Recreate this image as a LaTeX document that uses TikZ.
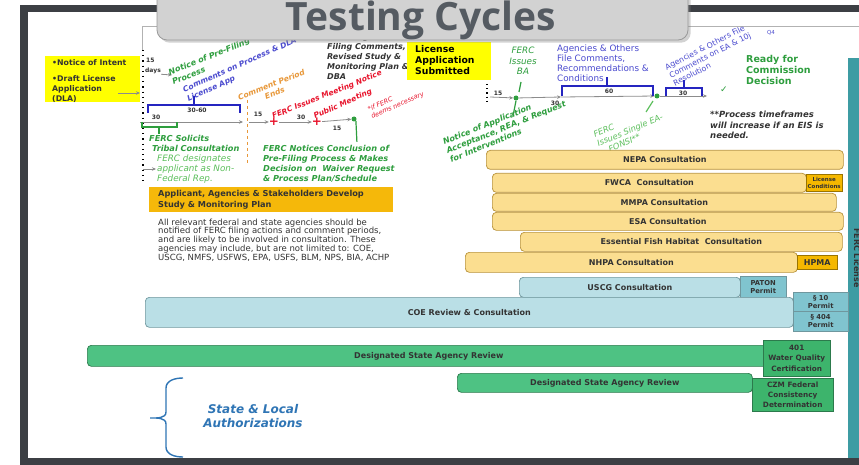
\documentclass[tikz,border=0pt]{standalone}
\usepackage{fontspec}
\setmainfont{DejaVu Sans}
\newfontfamily\titlefont{Open Sans}
\usetikzlibrary{arrows.meta,shadows}

\definecolor{frame}{HTML}{3C3F44}
\definecolor{titlefill}{HTML}{D2D2D2}
\definecolor{titletext}{HTML}{555B62}
\definecolor{hiyellow}{HTML}{FFFF00}
\definecolor{fercgreen}{HTML}{2E9E3E}
\definecolor{palegreen}{HTML}{5CBF5C}
\definecolor{agblue}{HTML}{4B4BCF}
\definecolor{brblue}{HTML}{2525C0}
\definecolor{cmorange}{HTML}{E8983A}
\definecolor{mtred}{HTML}{E8142C}
\definecolor{plangold}{HTML}{F5B80A}
\definecolor{barfill}{HTML}{FBDE90}
\definecolor{barline}{HTML}{B8923A}
\definecolor{tagfill}{HTML}{F5B800}
\definecolor{tagline}{HTML}{9A7400}
\definecolor{coefill}{HTML}{BADFE6}
\definecolor{coeline}{HTML}{6F979E}
\definecolor{permitfill}{HTML}{80C4CF}
\definecolor{statefill}{HTML}{4EC283}
\definecolor{stateline}{HTML}{2C7A4C}
\definecolor{certfill}{HTML}{3DB46C}
\definecolor{authblue}{HTML}{2F75B5}
\definecolor{licteal}{HTML}{3E9CA3}
\definecolor{bodytext}{HTML}{333333}
\definecolor{tline}{HTML}{8C8C8C}

\tikzset{
  every node/.style={inner sep=0pt},
  lbl/.style={align=left, anchor=north west},
  rot/.style={rotate=#1, align=left},
  consult/.style={draw=barline, fill=barfill, rounded corners=4pt, line width=0.7pt,
    anchor=north west, font=\bfseries\fontsize{8}{9}\selectfont, text=bodytext},
  tag/.style={draw=tagline, fill=tagfill, anchor=north west, align=center,
    font=\bfseries\fontsize{5.5}{7}\selectfont, text=bodytext},
  coebar/.style={consult, draw=coeline, fill=coefill},
  permit/.style={tag, draw=coeline, fill=permitfill, font=\bfseries\fontsize{6.8}{8.3}\selectfont},
  statebar/.style={consult, draw=stateline, fill=statefill},
  cert/.style={tag, draw=stateline, fill=certfill, font=\bfseries\fontsize{7.3}{10.3}\selectfont},
  tarrow/.style={draw=tline, line width=0.8pt, -{Stealth[length=4pt,width=3.5pt]}},
  tnum/.style={font=\bfseries\fontsize{6}{7}\selectfont, text=bodytext},
  crossmark/.style={font=\bfseries\fontsize{12}{12}\selectfont, text=mtred},
  gdot/.style={circle, fill=fercgreen, minimum size=5pt},
  bracket/.style={draw=brblue, line width=1.3pt},
  gbold/.style={text=fercgreen, font=\bfseries\itshape\fontsize{8.2}{10}\selectfont},
  gthin/.style={text=palegreen, font=\itshape\fontsize{8.8}{10}\selectfont},
}

\begin{document}
\begin{tikzpicture}[x=1pt,y=-1pt]
  \useasboundingbox (0,0) rectangle (859,465);
  \fill[white] (0,0) rectangle (859,465);
  \fill[frame] (20,5) rectangle (859,12);
  \fill[frame] (20,5) rectangle (28,465);
  \fill[frame] (20,458) rectangle (859,465);
  \draw[gray!60, line width=0.6pt] (142,50) -- (142,26) -- (859,26);
  \fill[licteal] (848,58) rectangle (859,458);
  \node[rotate=-90, font=\bfseries\fontsize{8}{9}\selectfont, text=bodytext] (license) at (857,258) {FERC License};

  % pre-filing
  \fill[hiyellow] (45,56) rectangle (140,102);
  \node[lbl, font=\bfseries\fontsize{7.8}{10}\selectfont, text=bodytext] (noi) at (52,59)
    {\textbullet Notice of Intent\\[6pt]\textbullet Draft License\\Application\\(DLA)};
  \coordinate (dlafrom) at (118,93);
  \coordinate (dlato) at (140,93);
  \draw[tarrow] (dlafrom) -- (dlato);
  \draw[black, line width=1.2pt, dash pattern=on 1.2pt off 4pt] (143,50) -- (143,184);
  \node[lbl, tnum] (fifteen) at (146,58) {15};
  \node[lbl, tnum] (days) at (145,68) {days};
  \coordinate (daysto) at (172,75);
  \draw[tarrow] (days.south east) -- (daysto);

  \node[rot=22, gbold, font=\bfseries\itshape\fontsize{8}{10}\selectfont] (prefiling) at (211,61) {Notice of Pre-Filing\\Process};
  \node[rot=24, text=agblue, font=\bfseries\itshape\fontsize{7.6}{10}\selectfont] (comments) at (242,70) {Comments on Process \& DLA\\License App};
  \node[rot=22, align=center, text=cmorange, font=\bfseries\itshape\fontsize{7.6}{9}\selectfont] (period) at (273,89) {Comment Period\\Ends};
  \node[rot=22, text=mtred, font=\bfseries\itshape\fontsize{7.5}{9}\selectfont] (notice) at (327,95) {FERC Issues Meeting Notice};
  \node[rot=24, text=mtred, font=\bfseries\itshape\fontsize{7.5}{9}\selectfont] (pubmeet) at (343,104) {Public Meeting};
  \node[rot=24, text=mtred, font=\itshape\fontsize{6.5}{8}\selectfont] (ifferc) at (396,102) {*if FERC\\deems necessary};
  \node[lbl, text=bodytext, font=\bfseries\itshape\fontsize{8}{10}\selectfont] (incl) at (327,33)
    {Including Pre-\\Filing Comments,\\Revised Study \&\\Monitoring Plan \&\\DBA};

  % first timeline
  \draw[bracket] (148,113) -- (148,105) -- (240,105) -- (240,113);
  \draw[bracket] (194,105) -- (194,96);
  \node[tnum] (sixty) at (197,110) {30-60};
  \coordinate (t0) at (140,122);
  \coordinate (t1) at (243,122);
  \coordinate (t2) at (249,122);
  \draw[tarrow] (t0) -- (t1);
  \node[tnum] (thirtya) at (156,117) {30};
  \draw[draw=fercgreen, line width=1.2pt] (142,122) -- (142,127) -- (177,127) -- (177,122);
  \draw[draw=fercgreen, line width=1.2pt] (159,127) -- (159,134);
  \draw[cmorange, line width=1pt, dashed] (247,100) -- (247,164);
  \node[crossmark] (c1) at (274,122) {+};
  \node[crossmark] (c2) at (317,122) {+};
  \node[gdot] (g1) at (354,119) {};
  \draw[tarrow] (t2) -- (c1);
  \draw[tarrow] (c1) -- (c2);
  \draw[tarrow] (c2) -- (g1);
  \draw[fercgreen, line width=1.2pt] (g1.south east) -- ++(1,21);
  \node[tnum] (fifteenb) at (258,114) {15};
  \node[tnum] (thirtyb) at (301,117) {30};
  \node[tnum] (fifteenc) at (337,128) {15};

  \node[lbl, gbold] (solicit) at (149,135) {FERC Solicits\\\ Tribal Consultation};
  \node[lbl, gthin] (designate) at (157,155) {FERC designates\\applicant as Non-\\Federal Rep.};
  \coordinate (repfrom) at (143,169);
  \coordinate (repto) at (156,169);
  \draw[tarrow] (repfrom) -- (repto);
  \node[lbl, gbold] (conclude) at (263,145) {FERC Notices Conclusion of\\Pre-Filing Process \& Makes\\Decision on\ \ Waiver Request\\\& Process Plan/Schedule};

  \node[fill=plangold, anchor=north west, minimum width=244pt, minimum height=25pt] (planbox) at (149,187) {};
  \node[lbl, text=bodytext, font=\bfseries\fontsize{8.2}{10.5}\selectfont] (plan) at (158,190.5)
    {Applicant, Agencies \& Stakeholders Develop\\Study \& Monitoring Plan};
  \node[lbl, text=bodytext, font=\fontsize{8.5}{8.8}\selectfont] (agencies) at (158,218.5)
    {All relevant federal and state agencies should be\\notified of FERC filing actions and comment periods,\\and are likely to be involved in consultation. These\\agencies may include, but are not limited to: COE,\\USCG, NMFS, USFWS, EPA, USFS, BLM, NPS, BIA, ACHP};

  % license application
  \fill[hiyellow] (407,42) rectangle (491,80);
  \node[lbl, font=\bfseries\fontsize{9.3}{11}\selectfont] (submitted) at (415,45.5) {License\\Application\\Submitted};
  \draw[black, line width=1.2pt, dash pattern=on 1.2pt off 3pt] (487,84) -- (487,102);
  \node[align=center, text=fercgreen, font=\itshape\fontsize{8.8}{10.5}\selectfont] (ba) at (523,61) {FERC\\Issues\\BA};
  \node[lbl, text=agblue, font=\fontsize{8.8}{10}\selectfont] (agfile) at (557,44.5)
    {Agencies \& Others\\File Comments,\\Recommendations \&\\Conditions};
  \node[rot=27, text=agblue, font=\fontsize{7.8}{9}\selectfont] (agea) at (710,55)
    {Agencies \& Others File\\Comments on EA \& 10j\\Resolution};
  \node[text=agblue, font=\fontsize{5.5}{6}\selectfont] (q4) at (771,33) {Q4};
  \node[lbl, text=fercgreen, font=\bfseries\fontsize{9.5}{11}\selectfont] (ready) at (746,55.5) {Ready for\\Commission\\Decision};
  \node[lbl, text=bodytext, font=\bfseries\itshape\fontsize{8.5}{10.5}\selectfont] (eis) at (710,111)
    {**Process timeframes\\will increase if an EIS is\\needed.};

  % second timeline
  \coordinate (s0) at (490,97);
  \coordinate (s1) at (561,97);
  \coordinate (s2) at (707,96);
  \node[gdot] (g2) at (516,98) {};
  \node[gdot] (g3) at (657,96) {};
  \draw[tarrow] (s0) -- (g2);
  \draw[tarrow] (g2) -- (s1);
  \draw[tarrow] (s1) -- (g3);
  \draw[tarrow] (g3) -- (s2);
  \node[tnum] (fifteend) at (498,93) {15};
  \node[tnum] (thirtyc) at (555,103) {30};
  \draw[bracket] (562,96) -- (562,86) -- (653,86) -- (653,96);
  \draw[bracket] (607,86) -- (607,77);
  \node[tnum] (sixtyb) at (609,91) {60};
  \draw[bracket] (666,96) -- (666,88) -- (702,88) -- (702,96);
  \draw[bracket] (684,88) -- (684,80);
  \node[tnum] (thirtyd) at (683,93) {30};
  \node[text=fercgreen, font=\bfseries\fontsize{9}{9}\selectfont] (check) at (724,90) {✓};
  \draw[fercgreen, line width=1.2pt] (521,82) -- (519,92);
  \draw[fercgreen, line width=1.2pt] (g2.south) -- (513,116);
  \draw[palegreen, line width=1.2pt] (646,112) -- (653,101);

  \node[rot=22, gbold, font=\bfseries\itshape\fontsize{8}{9.5}\selectfont] (accept) at (506,127)
    {Notice of Application\\Acceptance, REA, \& Request\\for Interventions};
  \node[rot=23, gthin, font=\itshape\fontsize{8.3}{9.5}\selectfont] (fonsi) at (630,130) {FERC\\Issues Single EA-\\\quad FONSI**};

  % consultations
  \node[consult, minimum width=357pt, minimum height=19pt] (nepa) at (486,150) {NEPA Consultation};
  \node[consult, minimum width=314pt, minimum height=19pt] (fwca) at (492,173) {FWCA\ \ Consultation};
  \node[tag, minimum width=36pt, minimum height=17pt] (conditions) at (806,174) {License\\Conditions};
  \node[consult, minimum width=344pt, minimum height=18pt] (mmpa) at (492,193) {MMPA Consultation};
  \node[consult, minimum width=351pt, minimum height=18pt] (esa) at (492,212) {ESA Consultation};
  \node[consult, minimum width=322pt, minimum height=19pt] (efh) at (520,232) {Essential Fish Habitat\ \ Consultation};
  \node[consult, minimum width=332pt, minimum height=20pt] (nhpa) at (465,252) {NHPA Consultation};
  \node[tag, minimum width=40pt, minimum height=14pt, font=\bfseries\fontsize{8}{9}\selectfont] (hpma) at (797,255) {HPMA};

  \node[coebar, minimum width=221pt, minimum height=20pt] (uscg) at (519,277) {USCG Consultation};
  \node[permit, minimum width=46pt, minimum height=21pt] (paton) at (740,276) {PATON\\Permit};
  \node[coebar, minimum width=648pt, minimum height=30pt] (coe) at (145,297) {COE Review \& Consultation};
  \node[permit, minimum width=55pt, minimum height=19pt] (sec10) at (793,292) {\S{} 10\\Permit};
  \node[permit, minimum width=55pt, minimum height=20pt] (sec404) at (793,311) {\S{} 404\\Permit};

  \node[statebar, minimum width=683pt, minimum height=21pt] (state) at (87,345) {Designated State Agency Review};
  \node[cert, minimum width=67pt, minimum height=36pt] (wqc) at (763,340) {401\\Water Quality\\Certification};
  \node[statebar, minimum width=295pt, minimum height=19pt] (statecz) at (457,373) {Designated State Agency Review};
  \node[cert, minimum width=81pt, minimum height=33pt] (czm) at (752,378) {CZM Federal\\Consistency\\Determination};

  % state and local
  \draw[authblue, line width=1.4pt] (183,378) to[out=180,in=90] (166,388) -- (166,412)
    to[out=270,in=0] (150,418) to[out=0,in=90] (166,424) -- (166,447) to[out=270,in=180] (183,457);
  \node[align=center, text=authblue, font=\bfseries\itshape\fontsize{12}{14}\selectfont] (stlocal) at (253,416)
    {State \& Local\\Authorizations};

  % title
  \fill[titlefill, draw=gray!80, line width=0.8pt, rounded corners=10pt, drop shadow={opacity=0.35}]
    (157,-15) rectangle (688,40);
  \node[anchor=base, text=titletext, font=\titlefont\bfseries\fontsize{39}{40}\selectfont] (title) at (421,31) {Testing Cycles};
\end{tikzpicture}
\end{document}
